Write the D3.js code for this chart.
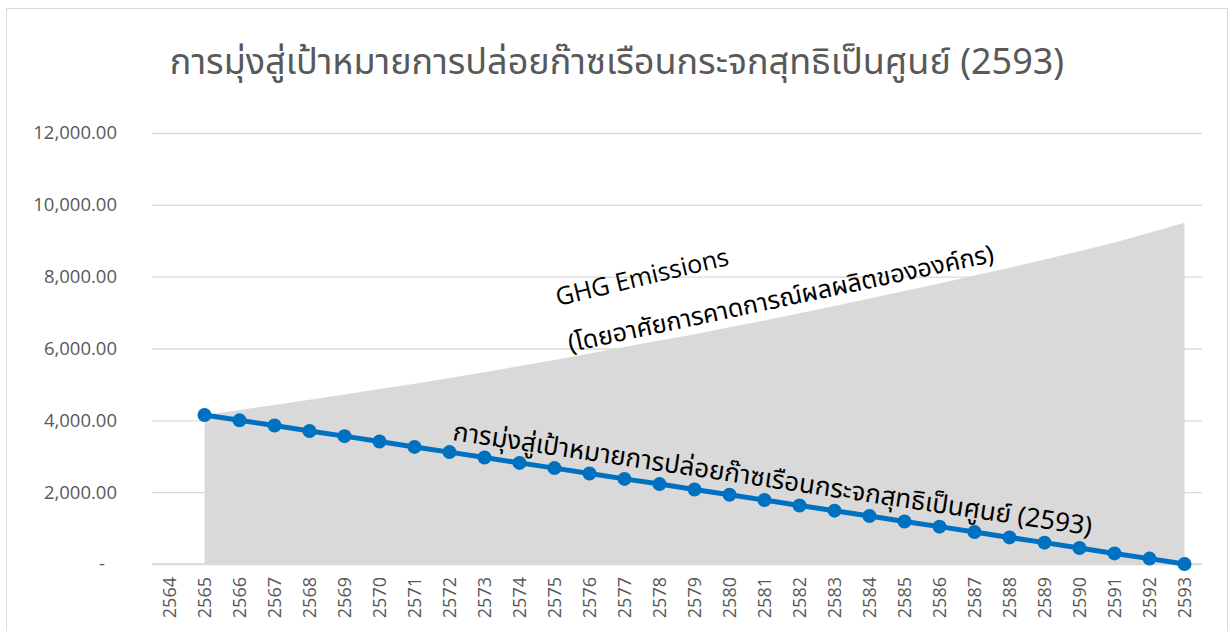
<!DOCTYPE html>
<html>
<head>
<meta charset="utf-8">
<script src="https://cdn.jsdelivr.net/npm/d3@7"></script>
<style>
  body { margin: 0; background: #fff; }
  text { font-family: "Noto Sans Thai", "Leelawadee UI", Tahoma, "Noto Sans", "DejaVu Sans", sans-serif; }
</style>
</head>
<body>
<div id="chart"></div>
<script>
var years = d3.range(2564, 2594).map(String);

// GHG emissions forecast (grey area), 2565-2593
var ghgYears = d3.range(2565, 2594).map(String);
var ghgValues = [4150, 4290, 4430, 4570, 4720, 4870, 5020, 5180, 5340, 5510,
                 5680, 5860, 6040, 6220, 6400, 6590, 6780, 6980, 7180, 7390,
                 7600, 7810, 8030, 8250, 8480, 8710, 8950, 9220, 9500];

// net zero target path (blue line), 2565-2593
var targetValues = [4150, 4000, 3855, 3705, 3560, 3410, 3260, 3115, 2965, 2815,
                    2670, 2520, 2370, 2225, 2075, 1930, 1780, 1630, 1485, 1335,
                    1185, 1040, 890, 740, 595, 445, 295, 150, 0];

var yTicks = [0, 2000, 4000, 6000, 8000, 10000, 12000];

var title = "การมุ่งสู่เป้าหมายการปล่อยก๊าซเรือนกระจกสุทธิเป็นศูนย์ (2593)";
var areaLabel1 = "GHG Emissions";
var areaLabel2 = "(โดยอาศัยการคาดการณ์ผลผลิตขององค์กร)";
var lineLabel = "การมุ่งสู่เป้าหมายการปล่อยก๊าซเรือนกระจกสุทธิเป็นศูนย์ (2593)";

var W = 1230, H = 631;

var svg = d3.select("#chart").append("svg")
    .attr("width", W)
    .attr("height", H);

// chart border
svg.append("rect")
    .attr("x", 6.5).attr("y", 8.5)
    .attr("width", 1221).attr("height", 640)
    .attr("fill", "none")
    .attr("stroke", "#d9d9d9");

var x = d3.scaleBand()
    .domain(years)
    .range([152, 1202])
    .padding(0);

var y = d3.scaleLinear()
    .domain([0, 12000])
    .range([564, 133]);

function cx(d) { return x(d) + x.bandwidth() / 2; }

// gridlines
svg.append("g")
    .attr("class", "grid")
    .call(d3.axisLeft(y).tickValues(yTicks).tickSize(-1050).tickFormat(""))
    .attr("transform", "translate(152,0)")
    .call(function(g) { g.select(".domain").remove(); })
    .selectAll("line")
      .attr("stroke", "#d9d9d9")
      .attr("stroke-width", 1.3);

// y labels
svg.append("g")
    .attr("class", "y-axis")
    .attr("transform", "translate(117,0)")
    .style("font-size", "18.5px")
    .call(d3.axisLeft(y).tickValues(yTicks).tickSize(0).tickPadding(0)
      .tickFormat(function(d) { return d === 0 ? "-" : d3.format(",.2f")(d); }))
    .call(function(g) {
      g.select(".domain").remove();
      g.selectAll("text")
        .attr("fill", "#595959")
        .style("font-family", "'Open Sans', 'Noto Sans', sans-serif")
        .attr("dx", function(d) { return d === 0 ? -12 : 0; });
    });

// area
var area = d3.area()
    .x(function(d) { return cx(d.year); })
    .y0(y(0))
    .y1(function(d) { return y(d.value); });

var ghg = ghgYears.map(function(yr, i) { return {year: yr, value: ghgValues[i]}; });
var target = ghgYears.map(function(yr, i) { return {year: yr, value: targetValues[i]}; });

svg.append("path")
    .datum(ghg)
    .attr("d", area)
    .attr("fill", "#d9d9d9");

// x axis baseline
svg.append("line")
    .attr("x1", 152).attr("x2", 1202)
    .attr("y1", y(0)).attr("y2", y(0))
    .attr("stroke", "#d9d9d9")
    .attr("stroke-width", 1.3);

// x labels
svg.append("g")
    .attr("class", "x-axis")
    .attr("transform", "translate(0," + (y(0) + 13) + ")")
    .style("font-size", "18px")
    .call(d3.axisBottom(x).tickSize(0).tickPadding(0))
    .call(function(g) {
      g.select(".domain").remove();
      g.selectAll("text")
        .attr("fill", "#595959")
        .style("font-family", "'Open Sans', 'Noto Sans', sans-serif")
        .attr("text-anchor", "end")
        .attr("transform", "rotate(-90)")
        .attr("x", 0)
        .attr("y", 0)
        .attr("dy", "0.35em");
    });

// target line
var line = d3.line()
    .x(function(d) { return cx(d.year); })
    .y(function(d) { return y(d.value); });

svg.append("path")
    .datum(target)
    .attr("d", line)
    .attr("fill", "none")
    .attr("stroke", "#0070c0")
    .attr("stroke-width", 5);

svg.selectAll(".dot")
    .data(target)
  .enter().append("circle")
    .attr("class", "dot")
    .attr("cx", function(d) { return cx(d.year); })
    .attr("cy", function(d) { return y(d.value); })
    .attr("r", 7)
    .attr("fill", "#0070c0");

// title
svg.append("text")
    .attr("x", 617)
    .attr("y", 74)
    .attr("text-anchor", "middle")
    .attr("fill", "#595959")
    .style("font-size", "36px")
    .text(title);

// annotations
svg.append("text")
    .attr("transform", "translate(558,306) rotate(-13.5)")
    .attr("fill", "#000")
    .style("font-size", "25px")
    .style("font-family", "'Open Sans', 'Noto Sans', sans-serif")
    .text(areaLabel1);

svg.append("text")
    .attr("transform", "translate(570,352) rotate(-12)")
    .attr("fill", "#000")
    .style("font-size", "25px")
    .text(areaLabel2);

svg.append("text")
    .attr("transform", "translate(452,440) rotate(8.5)")
    .attr("fill", "#000")
    .style("font-size", "26px")
    .text(lineLabel);
</script>
</body>
</html>
